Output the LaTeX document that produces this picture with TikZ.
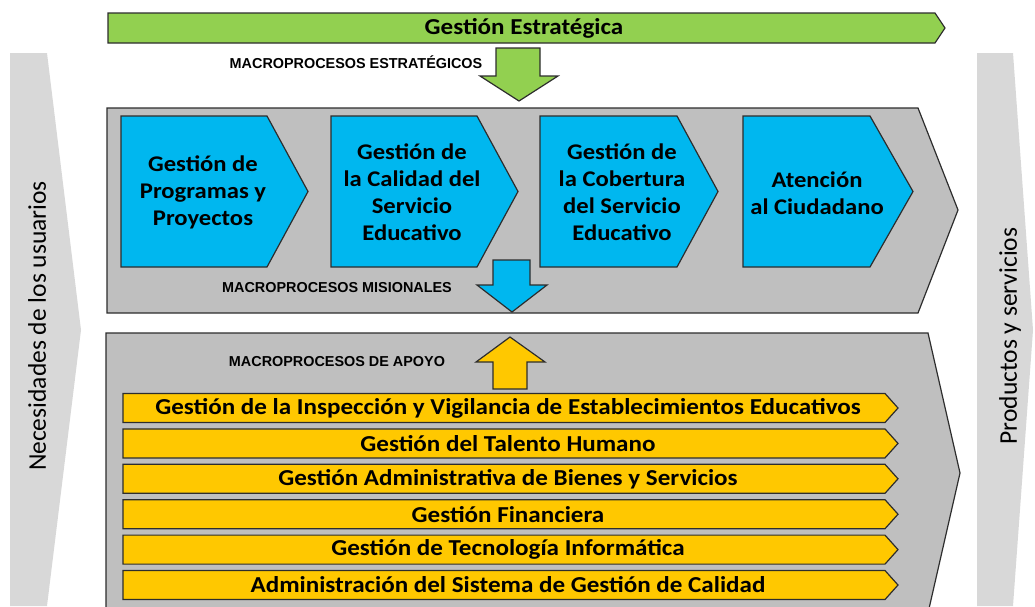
\documentclass[tikz,border=0pt]{standalone}
\usepackage{fontspec}
\setmainfont{Carlito}[FakeStretch=1.1]
\newfontfamily\ladofont{Carlito}
\newfontfamily\arialfont{Liberation Sans}
\usetikzlibrary{positioning}

\definecolor{verde}{RGB}{146,208,80}
\definecolor{azul}{RGB}{0,183,239}
\definecolor{amarillo}{RGB}{255,200,0}
\definecolor{gris}{RGB}{191,191,191}
\definecolor{grisclaro}{RGB}{216,216,216}
\definecolor{borde}{RGB}{45,45,45}

\tikzset{
  caja/.style={draw=borde, line width=1.2pt, line join=miter},
  mision/.style={font=\bfseries\fontsize{22.4}{27}\selectfont, align=center, inner sep=0pt},
  apoyo/.style={font=\bfseries\fontsize{22.8}{24}\selectfont, inner sep=0pt},
  macro/.style={font=\arialfont\bfseries\fontsize{14.4}{16}\selectfont, inner sep=0pt},
  lateral/.style={font=\ladofont\fontsize{25.5}{30}\selectfont, rotate=90, inner sep=0pt},
}

% chevron: colour, left x, body end x, tip x, top y, bottom y
\newcommand{\chevron}[6]{\filldraw[caja, fill=#1] (#2,#5) -- (#3,#5) -- (#4,{(#5+#6)/2}) -- (#3,#6) -- (#2,#6) -- cycle;}

\begin{document}
\begin{tikzpicture}[x=1pt,y=-1pt]
	\useasboundingbox (0,0) rectangle (1035,606);
	\clip (0,0) rectangle (1035,606);

	% side strips
	\fill[grisclaro] (10,53) -- (47,53) -- (81,330) -- (47,606) -- (10,606) -- cycle;
	\fill[grisclaro] (977,53) -- (1013,53) -- (1033,330) -- (1013,606) -- (977,606) -- cycle;
	\node[lateral] (nec) at (37,326) {Necesidades de los usuarios};
	\node[lateral] (prod) at (1010,336) {Productos y servicios};

	% estrategicos
	\chevron{verde}{108}{935}{945}{13}{43}
	\node[font=\bfseries\fontsize{22.8}{24}\selectfont, inner sep=0pt] (ge) at (524,28) {Gestión Estratégica};
	\node[macro] (me) at (356,62) {MACROPROCESOS ESTRATÉGICOS};
	\filldraw[caja, fill=verde] (496,48) -- (540,48) -- (540,76) -- (558,76) -- (519,101) -- (480,76) -- (496,76) -- cycle;

	% misionales
	\filldraw[caja, fill=gris] (107,108) -- (918,108) -- (958,210) -- (918,313) -- (107,313) -- cycle;
	\chevron{azul}{121}{267}{308}{116}{267}
	\chevron{azul}{331}{477}{518}{116}{267}
	\chevron{azul}{540}{677}{718}{116}{267}
	\chevron{azul}{743}{870}{913}{116}{267}
	\node[mision] (gpp) at (203,192) {Gestión de\\Programas y\\Proyectos};
	\node[mision] (gcs) at (412,192) {Gestión de\\la Calidad del\\Servicio\\Educativo};
	\node[mision] (gcb) at (622,192) {Gestión de\\la Cobertura\\del Servicio\\Educativo};
	\node[mision] (ac) at (817,193) {Atención\\al Ciudadano};
	\node[macro] (mm) at (337,288) {MACROPROCESOS MISIONALES};
	\filldraw[caja, fill=azul] (493,260) -- (530,260) -- (530,285) -- (547,285) -- (512,312) -- (477,285) -- (493,285) -- cycle;

	% apoyo
	\filldraw[caja, fill=gris] (106,333) -- (928,333) -- (960,473) -- (928,613) -- (106,613) -- cycle;
	\node[macro] (ma) at (337,362) {MACROPROCESOS DE APOYO};
	\filldraw[caja, fill=amarillo] (510,337) -- (545,362) -- (527,362) -- (527,389) -- (493,389) -- (493,362) -- (476,362) -- cycle;
	\foreach \txt [count=\i from 0] in {Gestión de la Inspección y Vigilancia de Establecimientos Educativos,
		Gestión del Talento Humano, Gestión Administrativa de Bienes y Servicios, Gestión Financiera,
		Gestión de Tecnología Informática, Administración del Sistema de Gestión de Calidad}{
		\pgfmathsetmacro\yc{408+35.4*\i}
		\chevron{amarillo}{123}{885}{898}{\yc-14.5}{\yc+14.5}
		\node[apoyo] (bar\i) at (508,\yc) {\txt};
	}
\end{tikzpicture}
\end{document}
